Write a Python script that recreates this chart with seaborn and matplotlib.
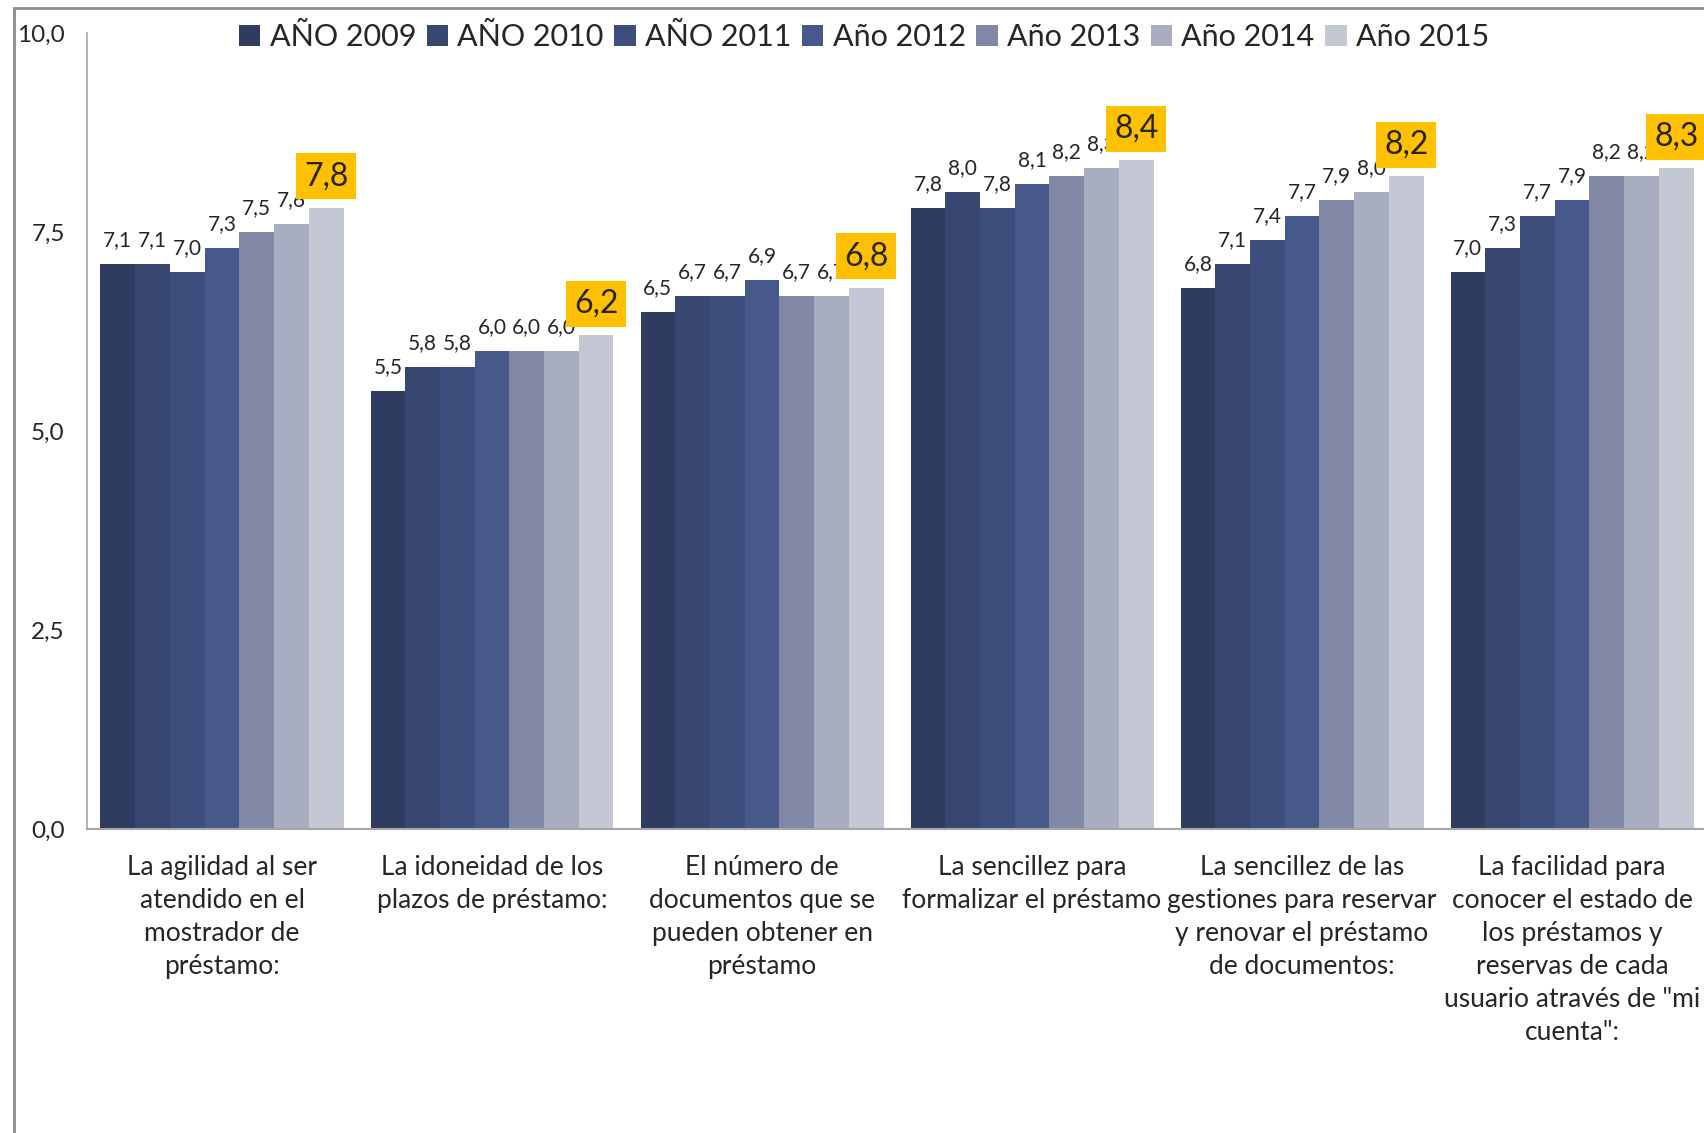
import matplotlib
matplotlib.use("Agg")
import matplotlib.pyplot as plt
import matplotlib.patches as mpatches
import seaborn as sns
import pandas as pd

categories = [
    "La agilidad al ser\natendido en el\nmostrador de\npréstamo:",
    "La idoneidad de los\nplazos de préstamo:",
    "El número de\ndocumentos que se\npueden obtener en\npréstamo",
    "La sencillez para\nformalizar el préstamo",
    "La sencillez de las\ngestiones para reservar\ny renovar el préstamo\nde documentos:",
    "La facilidad para\nconocer el estado de\nlos préstamos y\nreservas de cada\nusuario através de \"mi\ncuenta\":",
]
years = ["AÑO 2009", "AÑO 2010", "AÑO 2011", "Año 2012", "Año 2013", "Año 2014", "Año 2015"]

v2009 = [7.1, 5.5, 6.5, 7.8, 6.8, 7.0]
v2010 = [7.1, 5.8, 6.7, 8.0, 7.1, 7.3]
v2011 = [7.0, 5.8, 6.7, 7.8, 7.4, 7.7]
v2012 = [7.3, 6.0, 6.9, 8.1, 7.7, 7.9]
v2013 = [7.5, 6.0, 6.7, 8.2, 7.9, 8.2]
v2014 = [7.6, 6.0, 6.7, 8.3, 8.0, 8.2]
v2015 = [7.8, 6.2, 6.8, 8.4, 8.2, 8.3]

colors = ["#2F3B5F", "#384770", "#3D4E7D", "#46598A", "#8088A6", "#A8ADC2", "#C4C7D4"]

series = [v2009, v2010, v2011, v2012, v2013, v2014, v2015]
rows = []
for y, vals in zip(years, series):
    for c, v in zip(categories, vals):
        rows.append({"cat": c, "year": y, "val": v})
df = pd.DataFrame(rows)

sns.set_style("white")
plt.rcParams["font.family"] = ["Lato", "DejaVu Sans"]

fig = plt.figure(figsize=(17.04, 11.33), dpi=100)
ax = fig.add_axes([87 / 1704, 0.2683, 1620 / 1704, 0.7026])

sns.barplot(data=df, x="cat", y="val", hue="year", palette=colors, width=0.9,
            linewidth=0, saturation=1, ax=ax, legend=True)

fmt = lambda v: "{:.1f}".format(v).replace(".", ",")
for i, cont in enumerate(ax.containers):
    labels = [fmt(v) for v in series[i]]
    if i == len(ax.containers) - 1:
        anns = ax.bar_label(cont, labels=labels, padding=12, fontsize=23,
                            bbox=dict(boxstyle="square,pad=0.25", fc="#FFC000", ec="none"))
        for a in anns:
            a.set_zorder(10)
    else:
        ax.bar_label(cont, labels=labels, padding=10, fontsize=15)

ax.set_xlim(-0.5, 5.5)
ax.set_ylim(0, 10)
ax.set_yticks([0, 2.5, 5, 7.5, 10])
ax.set_yticklabels([fmt(t) for t in [0, 2.5, 5, 7.5, 10]], fontsize=17.5)
ax.set_xticks(range(len(categories)))
ax.set_xticklabels(categories, fontsize=19, linespacing=1.4, va="top")
ax.tick_params(axis="y", length=0, pad=16)
ax.tick_params(axis="x", length=0, pad=19)
ax.set_xlabel("")
ax.set_ylabel("")
for s in ["top", "right"]:
    ax.spines[s].set_visible(False)
ax.spines["left"].set_color("#A6A6A6")
ax.spines["bottom"].set_color("#A6A6A6")
ax.spines["left"].set_linewidth(1.2)
ax.spines["bottom"].set_linewidth(1.5)

handles, labs = ax.get_legend_handles_labels()
ax.legend(handles, labs, loc="center", bbox_to_anchor=(864 / 1704, 1 - 37 / 1133),
          bbox_transform=fig.transFigure, ncol=7, frameon=False, fontsize=22,
          handlelength=0.7, handleheight=0.7, handletextpad=0.3, columnspacing=0.35)

# outer chart frame (cropped)
frame = mpatches.Rectangle((14 / 1704, -0.2), 1.5, 1.2 - 8 / 1133, transform=fig.transFigure,
                           fill=False, ec="#8C8C8C", lw=2)
fig.patches.append(frame)

fig.savefig("out.png", dpi=100)
